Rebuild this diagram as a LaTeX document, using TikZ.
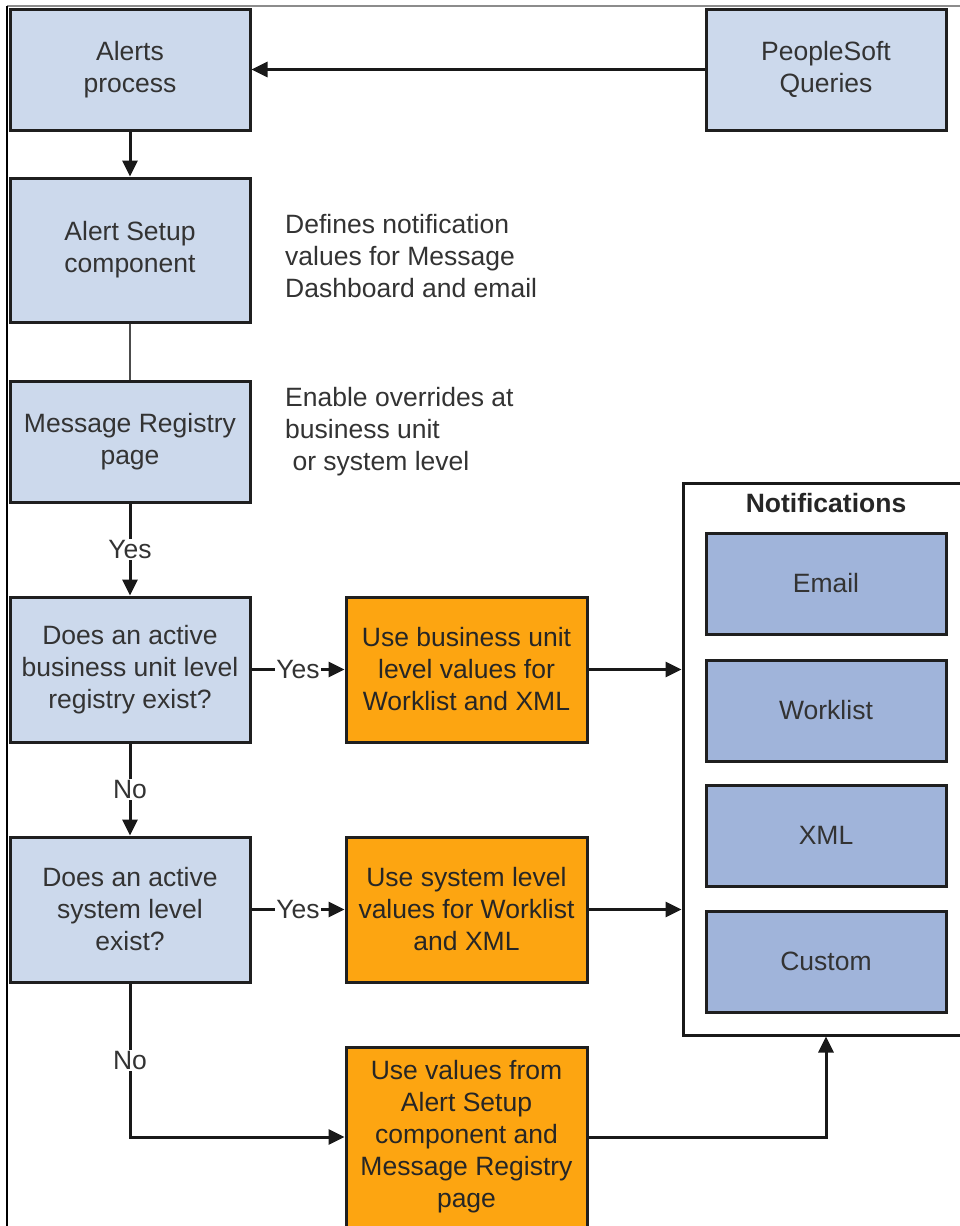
\documentclass[tikz,border=0pt]{standalone}
\usepackage{fontspec}
\setmainfont{Liberation Sans}
\usetikzlibrary{arrows.meta}
\definecolor{lightbox}{HTML}{CCD9EC}
\definecolor{itembox}{HTML}{A0B4DA}
\definecolor{orangebox}{HTML}{FDA511}
\definecolor{txt}{HTML}{333333}
\tikzset{
  base/.style={draw=black!88, line width=3pt, inner sep=0pt, align=center,
    text=txt, font=\fontsize{26.5}{32}\selectfont},
  bluebox/.style={base, fill=lightbox, minimum width=240pt, minimum height=121pt},
  decbox/.style={base, fill=lightbox, minimum width=240pt, minimum height=145pt},
  orbox/.style={base, fill=orangebox, text=black!85, minimum width=241pt, minimum height=145pt},
  itembx/.style={base, fill=itembox, minimum width=240pt, minimum height=101pt},
  conn/.style={draw=black!90, line width=3pt},
  arr/.style={conn, -{Triangle[length=16pt,width=15pt]}},
  lbl/.style={fill=white, inner sep=1pt, text=txt, font=\fontsize{26.5}{32}\selectfont},
  note/.style={anchor=west, align=left, inner sep=0pt, text=txt, font=\fontsize{26.5}{32}\selectfont}
}
\begin{document}
\begin{tikzpicture}[x=1pt,y=-1pt]
\useasboundingbox (0,0) rectangle (960,1226);
\fill[white] (0,0) rectangle (960,1226);
\begin{scope}
\clip (0,0) rectangle (960,1226);
% frame edges
\draw[black!45, line width=1.5pt] (7,6) -- (962,6);
\draw[black, line width=2pt] (7,6) -- (7,1230);

\node[bluebox] (alerts) at (130,69.5) {Alerts\\process};
\node[bluebox] (queries) at (826,69.5) {PeopleSoft\\Queries};
\node[bluebox, minimum height=144pt] (setup) at (130,250) {Alert Setup\\component};
\node[note] (setupnote) at (285,256) {Defines notification\\values for Message\\Dashboard and email};
\node[bluebox] (registry) at (130,441.5) {Message Registry\\page};
\node[note] (regnote) at (285,432) {Enable overrides at\\business unit\\\hspace*{0.278em}or system level};
\node[decbox] (dec1) at (130,669.5) {Does an active\\business unit level\\registry exist?};
\node[orbox] (use1) at (466.5,669.5) {Use business unit\\level values for\\Worklist and XML};
\node[decbox] (dec2) at (130,909.5) {Does an active\\system level\\exist?};
\node[orbox] (use2) at (466.5,909.5) {Use system level\\values for Worklist\\and XML};
\node[orbox, minimum height=180pt] (use3) at (466.5,1137) {Use values from\\Alert Setup\\component and\\Message Registry\\page};

\node[draw=black!90, fill=white, line width=3pt, minimum width=292pt, minimum height=552pt, inner sep=0pt] (notif) at (829,759) {};
\node[font=\bfseries\fontsize{26.5}{32}\selectfont, text=black!85] (notiftitle) at (826,503) {Notifications};
\node[itembx] (email) at (826,583.5) {Email};
\node[itembx] (worklist) at (826,710.5) {Worklist};
\node[itembx] (xml) at (826,835.5) {XML};
\node[itembx] (custom) at (826,961.5) {Custom};

% connectors
\draw[arr] (queries.west) -- (alerts.east);
\draw[arr] (alerts.south) -- (setup.north);
\draw[draw=black!70, line width=2.5pt] (setup.south) -- (registry.north);
\draw[arr] (registry.south) -- node[lbl] {Yes} (dec1.north);
\draw[arr] (dec1.east) -- node[lbl] {Yes} (use1.west);
\draw[arr] (use1.east) -- (notif.west |- use1.east);
\draw[arr] (dec1.south) -- node[lbl] {No} (dec2.north);
\draw[arr] (dec2.east) -- node[lbl] {Yes} (use2.west);
\draw[arr] (use2.east) -- (notif.west |- use2.east);
\draw[arr] (dec2.south) |- node[lbl, pos=0.25] {No} (use3.west);
\draw[arr] (use3.east) -| (custom.south |- notif.south);
\end{scope}
\end{tikzpicture}
\end{document}
